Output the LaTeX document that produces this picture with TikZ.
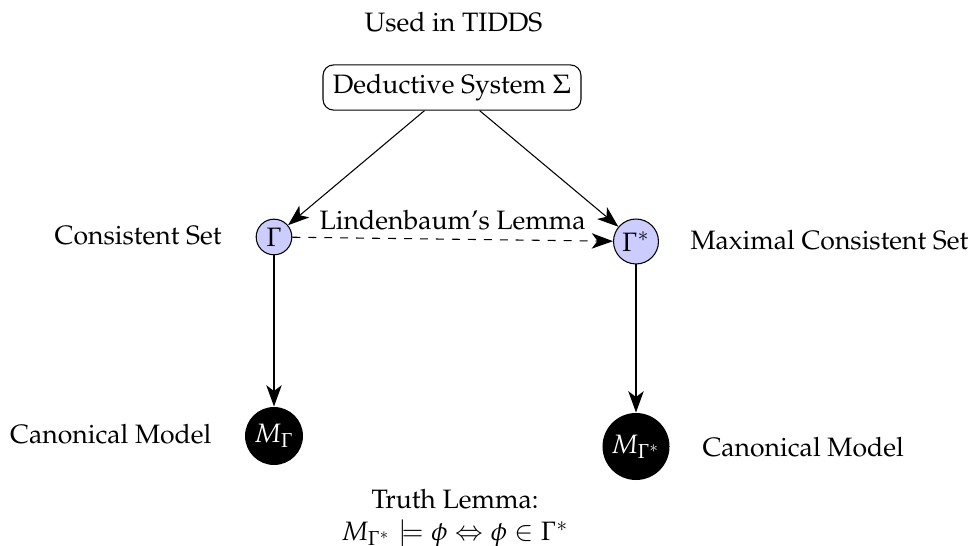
\documentclass[tikz,border=0pt]{standalone}
\usepackage[T1]{fontenc}
\usepackage{mathpazo}
\usetikzlibrary{arrows.meta}

\begin{document}
\begin{tikzpicture}[x=0.376pt,y=-0.376pt,
    every node/.style={font=\normalsize},
    plainlabel/.style={inner sep=0pt},
    setnode/.style={circle,draw=black,fill=blue!20,inner sep=0.5pt},
    modelnode/.style={circle,fill=black,text=white,inner sep=0.5pt},
    systembox/.style={draw,rounded corners=4pt,minimum width=97pt,minimum height=17pt,inner sep=2pt},
    tip/.style={-{Stealth[length=8pt,width=5.8pt,inset=2.2pt]}}]
  \useasboundingbox (0,0) rectangle (971,546);

  % title and the deductive system
  \node[plainlabel,anchor=base] (used) at (453.5,31.7) {Used in TIDDS};
  \node[systembox] (sys) at (452,87.5) {Deductive System $\Sigma$};

  % consistent sets
  \node[setnode,minimum size=13.4pt] (g) at (274,237) {$\Gamma$};
  \node[setnode,minimum size=16.9pt] (gs) at (636,241.5) {$\Gamma^*$};

  % canonical models
  \node[modelnode,minimum size=21.8pt] (mg) at (274,436) {$M_{\Gamma}$};
  \node[modelnode,minimum size=25.2pt] (mgs) at (636,446.5) {$M_{\Gamma^*}$};

  % side labels
  \node[plainlabel,anchor=base east] (cons) at (222,245) {Consistent Set};
  \node[plainlabel,anchor=base west] (maxc) at (690,250) {Maximal Consistent Set};
  \node[plainlabel,anchor=base east] (can1) at (212,444) {Canonical Model};
  \node[plainlabel,anchor=base west] (can2) at (702,457) {Canonical Model};

  % truth lemma
  \node[plainlabel,anchor=north,align=center] (truth) at (455,489)
    {Truth Lemma:\\ $M_{\Gamma^*}\models\phi\Leftrightarrow\phi\in\Gamma^*$};

  % connectors
  \draw[tip] (sys) -- (g);
  \draw[tip] (sys) -- (gs);
  \draw[tip,dashed] (g) -- node[above] (lind) {Lindenbaum's Lemma} (gs);
  \draw[tip] (g) -- (mg);
  \draw[tip] (gs) -- (mgs);
\end{tikzpicture}
\end{document}
